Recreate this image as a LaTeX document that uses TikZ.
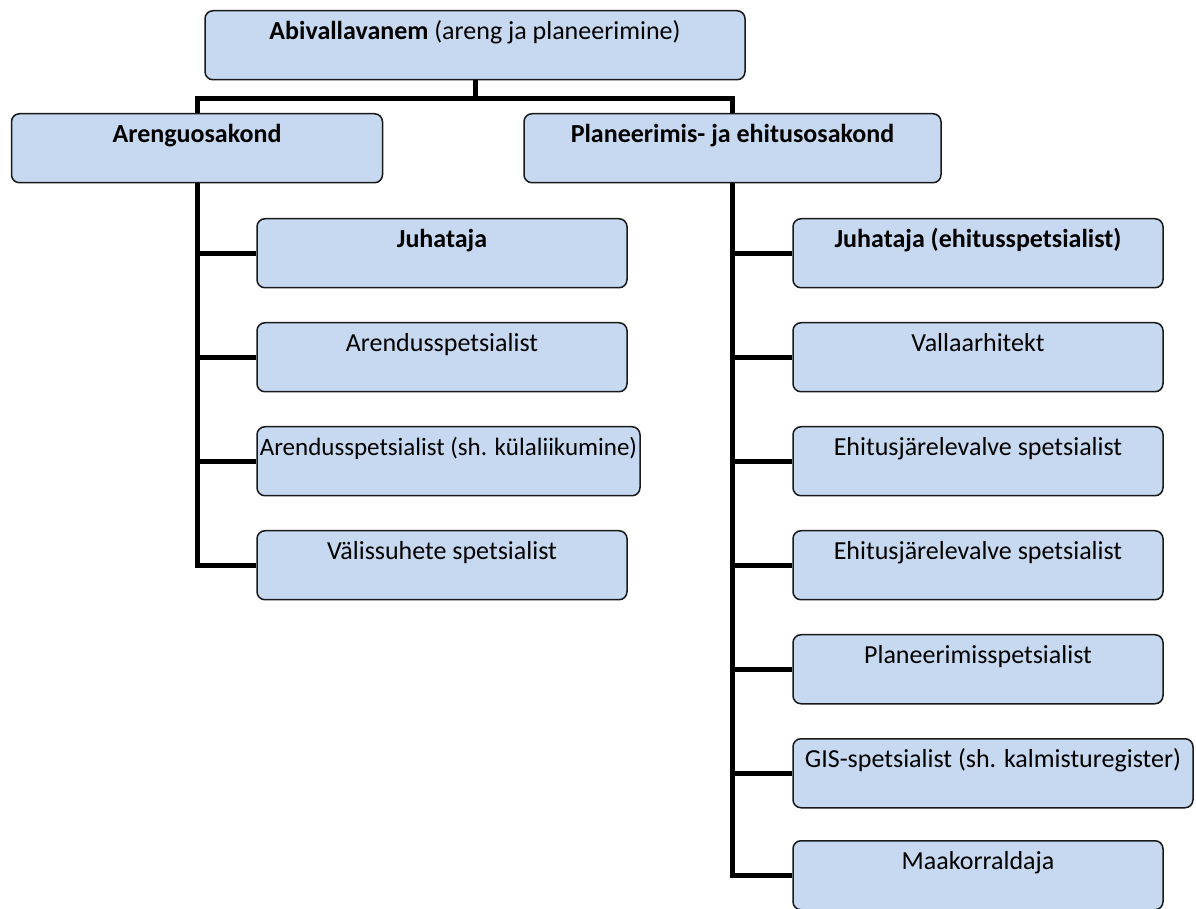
\documentclass[tikz,border=0pt]{standalone}
\usepackage{fontspec}
\setmainfont{Carlito}
\usepackage{tikz}
\definecolor{boxblue}{HTML}{C6D9F1}
\tikzstyle{unit}=[rectangle, rounded corners=4pt, draw=black!90, line width=0.75pt,
	                fill=boxblue, anchor=north, inner xsep=0pt, inner ysep=0pt,
	                text height=14.5pt, text depth=20pt, minimum width=185pt,
	                font=\fontsize{13pt}{15pt}\selectfont]
\tikzstyle{link}=[line width=2.5pt, draw=black]

\begin{document}
\begin{tikzpicture}[x=0.5pt, y=-0.5pt]
\useasboundingbox (0,0) rectangle (1196,909);
\node[unit, minimum width=270pt] (head) at (475,10) {\textbf{Abivallavanem} (areng ja planeerimine)};
\node[unit, minimum width=185.5pt] (aren) at (197,113) {\textbf{Arenguosakond}};
\node[unit, minimum width=208.5pt] (plan) at (732.5,113) {\textbf{Planeerimis- ja ehitusosakond}};
\node[unit] (a1) at (442,218) {\textbf{Juhataja}};
\node[unit] (a2) at (442,322) {Arendusspetsialist};
\node[unit, minimum width=191.5pt, font=\fontsize{12.5pt}{15pt}\selectfont] (a3) at (448.5,426) {Arendusspetsialist (sh. külaliikumine)};
\node[unit] (a4) at (442,530) {Välissuhete spetsialist};
\node[unit] (p1) at (978,218) {\textbf{Juhataja (ehitusspetsialist)}};
\node[unit] (p2) at (978,322) {Vallaarhitekt};
\node[unit] (p3) at (978,426) {Ehitusjärelevalve spetsialist};
\node[unit] (p4) at (978,530) {Ehitusjärelevalve spetsialist};
\node[unit] (p5) at (978,634) {Planeerimisspetsialist};
\node[unit, minimum width=200pt] (p6) at (993,738) {GIS-spetsialist (sh. kalmisturegister)};
\node[unit] (p7) at (978,840) {Maakorraldaja};
\draw[link] (head.south) -- ++(0,18) coordinate (bar);
\draw[link] (aren.north) |- (bar) -| (plan.north);
\foreach \n in {a1,a2,a3,a4}
	\draw[link] (aren.south) |- (\n.west);
\foreach \n in {p1,p2,p3,p4,p5,p6,p7}
	\draw[link] (plan.south) |- (\n.west);
\end{tikzpicture}
\end{document}
